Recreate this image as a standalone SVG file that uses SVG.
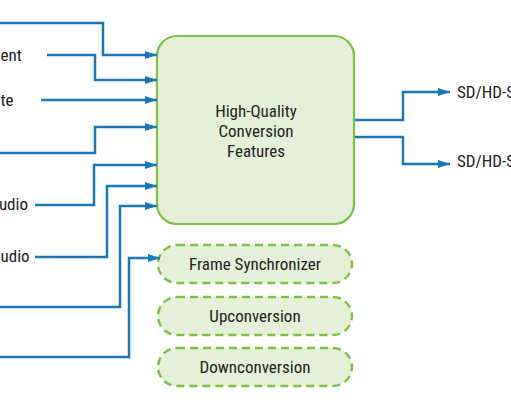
<svg xmlns="http://www.w3.org/2000/svg" width="511" height="400" viewBox="0 0 511 400">
<style>
.t{font-family:"Liberation Sans Narrow","Roboto Condensed","Liberation Sans",Arial,sans-serif;font-size:17px;fill:#222}
.c{stroke:#1a78b8;stroke-width:2.5;fill:none;marker-end:url(#ah)}
.main{fill:#e4f0d8;stroke:#7cc142;stroke-width:2.2}
.feat{fill:#e4f0d8;stroke:#7cc142;stroke-width:2.4;stroke-dasharray:8 5}
</style>
<defs>
<marker id="ah" viewBox="0 0 12 8" refX="12" refY="4" markerWidth="12" markerHeight="8" markerUnits="userSpaceOnUse" orient="auto">
<path d="M0,0 L12,4 L0,8 z" fill="#1a78b8"/>
</marker>
</defs>
<rect width="511" height="400" fill="#fff"/>
<g id="main">
<rect class="main" x="157" y="36" width="197" height="188" rx="20"/>
<text class="t" text-anchor="middle" x="256" y="117">High-Quality</text>
<text class="t" text-anchor="middle" x="256" y="137">Conversion</text>
<text class="t" text-anchor="middle" x="256" y="157">Features</text>
</g>
<g id="frame-sync">
<rect class="feat" x="158" y="245" width="194" height="38" rx="19"/>
<text class="t" text-anchor="middle" x="255" y="270">Frame Synchronizer</text>
</g>
<g id="upconversion">
<rect class="feat" x="158" y="297" width="194" height="38" rx="19"/>
<text class="t" text-anchor="middle" x="255" y="322">Upconversion</text>
</g>
<g id="downconversion">
<rect class="feat" x="158" y="348" width="194" height="38" rx="19"/>
<text class="t" text-anchor="middle" x="255" y="373">Downconversion</text>
</g>
<g id="labels">
<text class="t" x="0.5" y="61">ent</text>
<text class="t" x="0.5" y="106">te</text>
<text class="t" text-anchor="end" x="28" y="210">Audio</text>
<text class="t" x="0.5" y="262">udio</text>
<text class="t" x="457" y="98">SD/HD-S</text>
<text class="t" x="457" y="167">SD/HD-S</text>
</g>
<g id="connectors">
<path class="c" d="M0,23 H103 V55 H157"/>
<path class="c" d="M47,55 H95 V80 H157"/>
<path class="c" d="M41,100 H157"/>
<path class="c" d="M0,153 H95 V127 H157"/>
<path class="c" d="M35,205 H94 V165 H157"/>
<path class="c" d="M35,257 H107 V186 H157"/>
<path class="c" d="M0,307 H120 V206 H157"/>
<path class="c" d="M0,357 H129 V258 H160"/>
<path class="c" d="M355,120 H403 V92 H450"/>
<path class="c" d="M355,137 H403 V164 H450"/>
</g>
</svg>
